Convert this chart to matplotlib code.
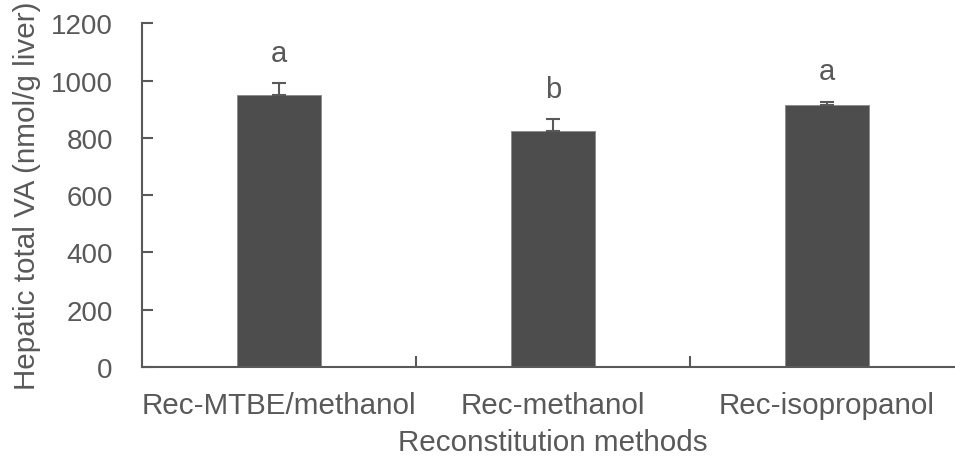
import matplotlib.pyplot as plt
import numpy as np

plt.rcParams['font.family'] = ['Liberation Sans', 'DejaVu Sans']

methods = ["Rec-MTBE/methanol", "Rec-methanol", "Rec-isopropanol"]
total_va = [951, 823, 915]
sd = [41, 42, 12]
letters = ["a", "b", "a"]

grey = "#595959"
fig = plt.figure(figsize=(9.55, 4.64), dpi=100)
ax = fig.add_axes([0.1487, 0.2069, 0.8607, 0.7403])

x = np.arange(len(methods))
ax.bar(x, total_va, width=0.31, color="#4d4d4d", edgecolor="#8a8a8a", linewidth=0.6,
       yerr=[np.zeros(len(sd)), sd], error_kw=dict(ecolor=grey, elinewidth=1.5, capsize=5, capthick=1.5),
       zorder=2)

# significance letters above the error bars
for xi, v, e, t in zip(x, total_va, sd, letters):
    ax.annotate(t, (xi, v + e), xytext=(0, 16), textcoords="offset points",
                ha="center", va="baseline", fontsize=21, color=grey)

ax.set_xlim(-0.5, 2.5)
ax.set_ylim(0, 1200)
ax.set_yticks(range(0, 1201, 200))
ax.set_xticks(x)
ax.set_xticklabels(methods)
ax.set_xticks([0.5, 1.5, 2.5], minor=True)
ax.tick_params(axis="x", which="major", length=0, pad=17, labelsize=21.3, labelcolor=grey)
ax.tick_params(axis="x", which="minor", direction="in", length=8, width=1.5, color=grey)
ax.tick_params(axis="y", direction="in", length=8, width=1.5, color=grey, pad=21,
               labelsize=20, labelcolor=grey)

for s in ["top", "right"]:
    ax.spines[s].set_visible(False)
for s in ["left", "bottom"]:
    ax.spines[s].set_color(grey)
    ax.spines[s].set_linewidth(1.5)

ax.set_xlabel("Reconstitution methods", fontsize=21.3, color=grey, labelpad=7)
ax.set_ylabel("Hepatic total VA (nmol/g liver)", fontsize=21.3, color=grey, labelpad=7)

fig.savefig("out.png", dpi=100)
